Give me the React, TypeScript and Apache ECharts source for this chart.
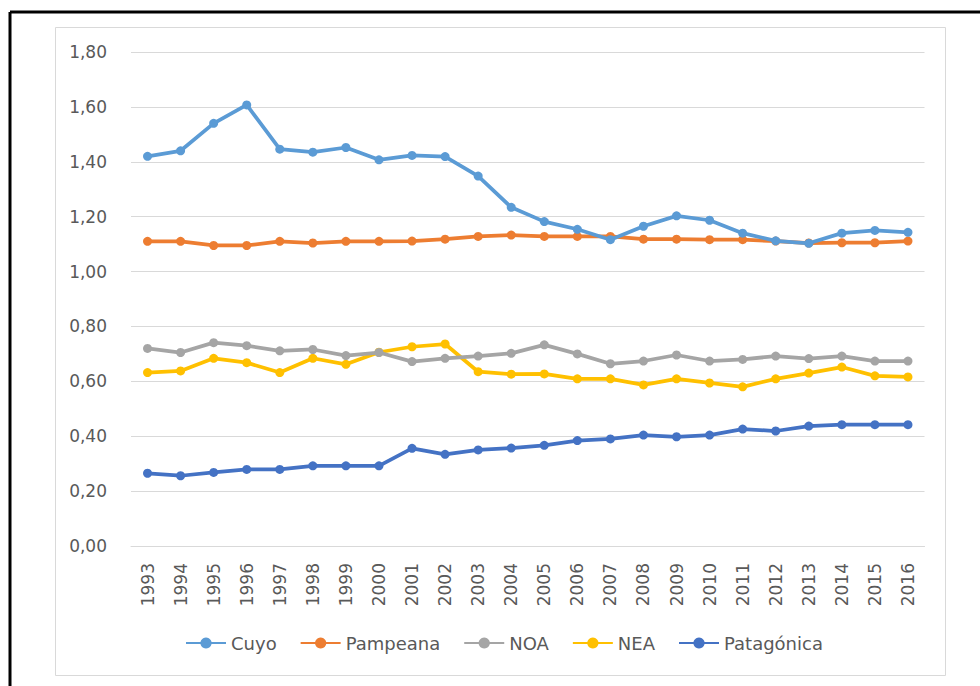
import React, { useEffect, useRef } from "react";
import * as echarts from "echarts";

const years = [
  "1993", "1994", "1995", "1996", "1997", "1998", "1999", "2000", "2001", "2002", "2003", "2004",
  "2005", "2006", "2007", "2008", "2009", "2010", "2011", "2012", "2013", "2014", "2015", "2016",
];

const cuyo = [1.42, 1.44, 1.54, 1.607, 1.446, 1.435, 1.452, 1.407, 1.423, 1.419, 1.348, 1.234,
  1.182, 1.154, 1.116, 1.165, 1.203, 1.187, 1.14, 1.112, 1.103, 1.14, 1.15, 1.143];
const pampeana = [1.11, 1.11, 1.095, 1.095, 1.11, 1.104, 1.11, 1.11, 1.111, 1.118, 1.128, 1.133,
  1.128, 1.128, 1.128, 1.118, 1.118, 1.116, 1.116, 1.111, 1.104, 1.105, 1.105, 1.111];
const noa = [0.72, 0.705, 0.741, 0.73, 0.711, 0.716, 0.694, 0.705, 0.672, 0.684, 0.692, 0.702,
  0.733, 0.7, 0.664, 0.674, 0.696, 0.674, 0.68, 0.692, 0.683, 0.692, 0.674, 0.674];
const nea = [0.632, 0.638, 0.684, 0.668, 0.632, 0.684, 0.662, 0.706, 0.726, 0.736, 0.635, 0.626,
  0.627, 0.609, 0.609, 0.587, 0.609, 0.594, 0.58, 0.609, 0.63, 0.652, 0.62, 0.616];
const patagonica = [0.265, 0.256, 0.268, 0.279, 0.279, 0.292, 0.292, 0.292, 0.356, 0.334, 0.35, 0.357,
  0.367, 0.384, 0.39, 0.404, 0.398, 0.404, 0.426, 0.419, 0.437, 0.442, 0.442, 0.442];

const seriesNames = ["Cuyo", "Pampeana", "NOA", "NEA", "Patagónica"];
const seriesData = [cuyo, pampeana, noa, nea, patagonica];
const colors = ["#5B9BD5", "#ED7D31", "#A5A5A5", "#FFC000", "#4472C4"];

export default function App() {
  const ref = useRef<HTMLDivElement>(null);
  useEffect(() => {
    if (!ref.current) return;
    const chart = echarts.init(ref.current, undefined, { renderer: "svg" });
    const font = "DejaVu Sans";
    chart.setOption({
      animation: false,
      backgroundColor: "#ffffff",
      color: colors,
      textStyle: { fontFamily: font },
      graphic: [
        { type: "rect", shape: { x: 55.5, y: 27.5, width: 890, height: 648 }, style: { fill: "none", stroke: "#d9d9d9", lineWidth: 1 }, silent: true },
        { type: "line", shape: { x1: 10, y1: 12, x2: 980, y2: 12 }, style: { stroke: "#000", lineWidth: 3 }, silent: true },
        { type: "line", shape: { x1: 10, y1: 12, x2: 10, y2: 686 }, style: { stroke: "#000", lineWidth: 3 }, silent: true },
      ],
      grid: { left: 131, right: 55.5, top: 52, bottom: 140, containLabel: false },
      legend: {
        left: 180,
        top: 629,
        itemWidth: 40,
        itemHeight: 14,
        itemGap: 23,
        textStyle: { color: "#595959", fontSize: 18, fontFamily: font },
        data: seriesNames,
      },
      xAxis: {
        type: "category",
        data: years,
        boundaryGap: true,
        axisLine: { lineStyle: { color: "#d9d9d9", width: 1 } },
        axisTick: { show: false },
        axisLabel: { rotate: 90, color: "#595959", fontSize: 17, margin: 17, interval: 0, fontFamily: font },
      },
      yAxis: {
        type: "value",
        min: 0,
        max: 1.8,
        interval: 0.2,
        axisLine: { show: false },
        axisTick: { show: false },
        splitLine: { lineStyle: { color: "#d9d9d9", width: 1 } },
        axisLabel: {
          color: "#595959",
          fontSize: 17,
          margin: 24,
          fontFamily: font,
          formatter: (v: number) => v.toFixed(2).replace(".", ","),
        },
      },
      series: seriesNames.map((name, i) => ({
        name,
        type: "line",
        data: seriesData[i],
        symbol: "circle",
        symbolSize: 9,
        lineStyle: { width: 3.75, color: colors[i] },
        itemStyle: { color: colors[i] },
        z: 10 - i,
      })),
    });
    return () => chart.dispose();
  }, []);
  return (
    <div
      ref={ref}
      style={{ position: "absolute", left: 0, top: 0, width: 980, height: 686 }}
    />
  );
}
